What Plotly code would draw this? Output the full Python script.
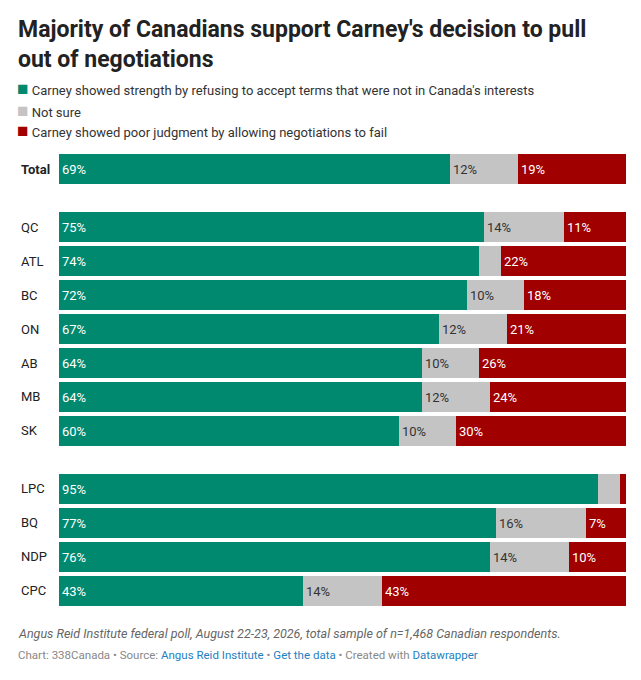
import plotly.graph_objects as go

groups = ["Total", "QC", "ATL", "BC", "ON", "AB", "MB", "SK", "LPC", "BQ", "NDP", "CPC"]
strength = [69, 75, 74, 72, 67, 64, 64, 60, 95, 77, 76, 43]
not_sure = [12, 14, 4, 10, 12, 10, 12, 10, 4, 16, 14, 14]
poor = [19, 11, 22, 18, 21, 26, 24, 30, 1, 7, 10, 43]

names = ["Carney showed strength by refusing to accept terms that were not in Canada's interests",
         "Not sure",
         "Carney showed poor judgment by allowing negotiations to fail"]
colors = ["#00896f", "#c4c4c4", "#a00000"]
txt_colors = ["white", "#333333", "white"]

# row positions, with gaps between the total, region and party blocks
ypos = []
pos = 0.0
for i, g in enumerate(groups):
    if i in (1, 8):
        pos += 0.7
    ypos.append(pos)
    pos += 1

fig = go.Figure()
for vals, name, col, tc in zip([strength, not_sure, poor], names, colors, txt_colors):
    labels = [f"{v}%" if v >= 5 else "" for v in vals]
    fig.add_trace(go.Bar(
        x=vals, y=ypos, orientation="h", name=name, marker=dict(color=col, line=dict(width=0)),
        width=0.88, text=labels, textposition="inside", insidetextanchor="start",
        textfont=dict(color=tc, size=13, family="Roboto"), showlegend=False,
        hoverinfo="skip"))

for g, y in zip(groups, ypos):
    fig.add_annotation(text=f"<b>{g}</b>" if g == "Total" else g, x=-0.071, xref="paper", y=y, yref="y",
                       xanchor="left", showarrow=False, font=dict(size=13, color="#222", family="Roboto"))

# legend
for i, (name, col) in enumerate(zip(names, colors)):
    yy = 89 + 21 * i
    fig.add_annotation(text=f"<span style='color:{col};font-size:19px'>■</span> {name}", xref="paper", yref="paper",
                       x=-0.078, y=(606 - yy) / 452, xanchor="left", yanchor="middle", showarrow=False,
                       font=dict(size=13, color="#333", family="Roboto"))

fig.add_annotation(text="<b>Majority of Canadians support Carney's decision to pull<br>out of negotiations</b>",
                   xref="paper", yref="paper", x=-0.076, y=(606 - 14) / 452, xanchor="left", yanchor="top",
                   align="left", showarrow=False, font=dict(size=23, color="#222", family="Roboto"))
fig.add_annotation(text="<i>Angus Reid Institute federal poll, August 22-23, 2026, total sample of n=1,468 Canadian respondents.</i>",
                   xref="paper", yref="paper", x=-0.076, y=(606 - 633) / 452, xanchor="left", yanchor="middle",
                   showarrow=False, font=dict(size=12.5, color="#666", family="Roboto"))
fig.add_annotation(text="Chart: 338Canada • Source: <span style='color:#1d81c2'>Angus Reid Institute</span> • "
                        "<span style='color:#1d81c2'>Get the data</span> • Created with <span style='color:#1d81c2'>Datawrapper</span>",
                   xref="paper", yref="paper", x=-0.076, y=(606 - 655) / 452, xanchor="left", yanchor="middle",
                   showarrow=False, font=dict(size=11.5, color="#888", family="Roboto"))

fig.update_layout(
    width=633, height=672, barmode="stack", bargap=0,
    margin=dict(l=51, r=15, t=146, b=74),
    plot_bgcolor="white", paper_bgcolor="white",
    xaxis=dict(range=[0, 100], visible=False, fixedrange=True),
    yaxis=dict(range=[ypos[-1] + 0.45, -0.45], visible=False, fixedrange=True),
    font=dict(family="Roboto"),
)
fig.write_html("out.html")
